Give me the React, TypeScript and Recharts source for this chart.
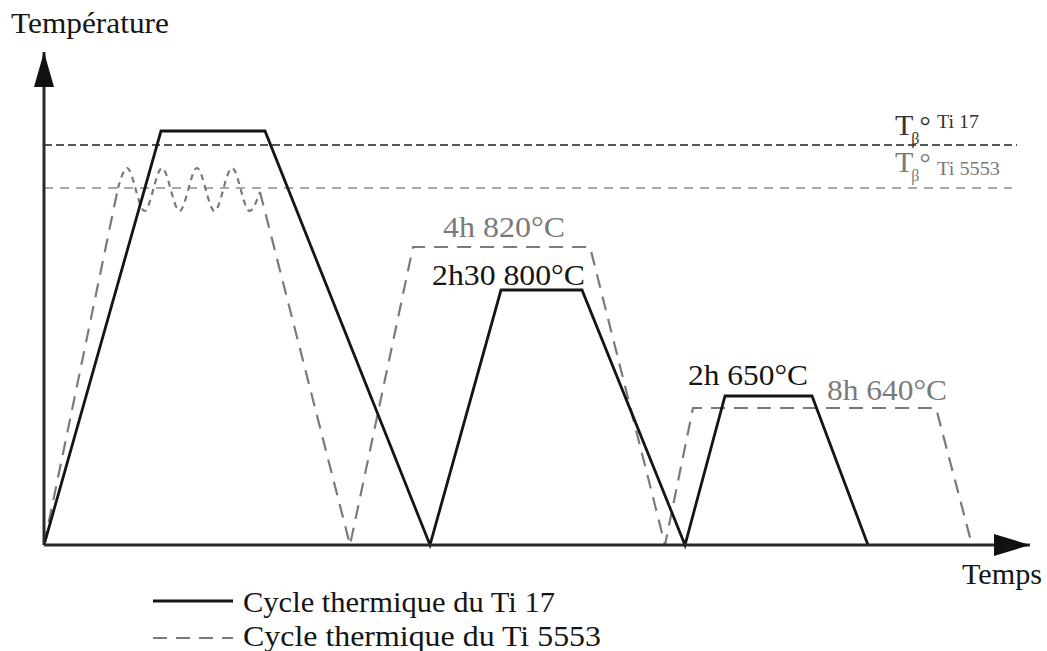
import React from 'react';
import { LineChart, Line, XAxis, YAxis, ReferenceLine, ReferenceDot } from 'recharts';

const W = 1047;
const H = 651;
const MARGIN = { top: 52, right: 17, bottom: 106, left: 44 };
const TIME_MAX = 986;
const TEMP_MAX = 493;

const FONT = '"Liberation Serif", "DejaVu Serif", serif';
const BLACK = '#151515';
const GREY = '#7a7a7a';

// Ti 17 : trait plein
const ti17Time = [0, 117, 221, 386, 457, 538, 641, 681, 768, 824];
const ti17Temp = [0, 414, 414, 0, 255, 255, 0, 149, 149, 0];

// Ti 5553 : tirets (la partie oscillante est une série à part)
const ti5553Time = [0, 74, 120, 216, 306, 369, 546, 621, 649, 892, 928];
const ti5553Temp = [0, 357, null, 353, 0, 298, 298, 0, 137, 137, 0];

const oscTime = [74, 83, 100.5, 118, 135.5, 153, 170.5, 188, 205.5, 216];
const oscTemp = [357, 377, 334, 377, 334, 377, 334, 377, 334, 353];

// transus beta
const tBetaTi17 = 400;
const tBetaTi5553 = 357;
const tBetaEnd = 973;

const plateauLabels = ['4h 820°C', '2h30 800°C', '2h 650°C', '8h 640°C'];
const legendLabels = ['Cycle thermique du Ti 17', 'Cycle thermique du Ti 5553'];

const zip = (t: number[], v: (number | null)[]) => t.map((x, i) => ({ t: x, T: v[i] }));

const ti17Data = zip(ti17Time, ti17Temp);
const ti5553Data = zip(ti5553Time, ti5553Temp);
const oscData = zip(oscTime, oscTemp);

const DASH = '14 9';

const textMark = (key: string, t: number, T: number, text: string, color: string, width: number) => (
  <ReferenceDot
    key={key}
    x={t}
    y={T}
    r={0}
    ifOverflow="visible"
    shape={(p: any) => (
      <text
        x={p.cx}
        y={p.cy}
        fill={color}
        fontSize={30}
        fontFamily={FONT}
        textLength={width}
        lengthAdjust="spacingAndGlyphs"
      >
        {text}
      </text>
    )}
  />
);

const betaMark = (key: string, t: number, T: number, alloy: string, color: string, alloyWidth: number, alloyDy: number) => (
  <ReferenceDot
    key={key}
    x={t}
    y={T}
    r={0}
    ifOverflow="visible"
    shape={(p: any) => (
      <g fill={color} fontFamily={FONT}>
        <text x={p.cx} y={p.cy} fontSize={30}>
          T<tspan dx={-2} dy={9} fontSize={16}>β</tspan>
          <tspan dx={0} dy={-9} fontSize={28}>°</tspan>
        </text>
        <text x={p.cx + 42} y={p.cy + alloyDy} fontSize={19} textLength={alloyWidth} lengthAdjust="spacingAndGlyphs">
          {alloy}
        </text>
      </g>
    )}
  />
);

const App = () => {
  return (
    <div style={{ position: 'absolute', left: 0, top: 0, width: W, height: H, background: '#fff' }}>
      <LineChart width={W} height={H} margin={MARGIN}>
        <XAxis dataKey="t" type="number" domain={[0, TIME_MAX]} hide />
        <YAxis type="number" domain={[0, TEMP_MAX]} hide />

        <ReferenceLine
          segment={[{ x: 0, y: tBetaTi17 }, { x: tBetaEnd, y: tBetaTi17 }]}
          stroke="#555"
          strokeWidth={2}
          strokeDasharray="8 4"
          ifOverflow="visible"
        />
        <ReferenceLine
          segment={[{ x: 0, y: tBetaTi5553 }, { x: tBetaEnd - 5, y: tBetaTi5553 }]}
          stroke="#8a8a8a"
          strokeWidth={1.5}
          strokeDasharray="9 7"
          ifOverflow="visible"
        />

        <Line
          data={ti5553Data}
          dataKey="T"
          type="linear"
          stroke={GREY}
          strokeWidth={2.2}
          strokeDasharray={DASH}
          dot={false}
          connectNulls={false}
          isAnimationActive={false}
        />
        <Line
          data={oscData}
          dataKey="T"
          type="monotone"
          stroke={GREY}
          strokeWidth={2.2}
          strokeDasharray="6 5"
          dot={false}
          isAnimationActive={false}
        />
        <Line
          data={ti17Data}
          dataKey="T"
          type="linear"
          stroke={BLACK}
          strokeWidth={2.8}
          dot={false}
          isAnimationActive={false}
        />

        {/* axes */}
        <ReferenceLine x={0} stroke="#2a2a2a" strokeWidth={3} ifOverflow="visible" />
        <ReferenceLine y={0} stroke="#2a2a2a" strokeWidth={3} ifOverflow="visible" />
        <ReferenceDot
          x={0}
          y={TEMP_MAX}
          r={0}
          ifOverflow="visible"
          shape={(p: any) => (
            <polygon points={`${p.cx},${p.cy} ${p.cx - 10},${p.cy + 35} ${p.cx + 10},${p.cy + 35}`} fill="#111" />
          )}
        />
        <ReferenceDot
          x={TIME_MAX}
          y={0}
          r={0}
          ifOverflow="visible"
          shape={(p: any) => (
            <polygon points={`${p.cx},${p.cy} ${p.cx - 36},${p.cy - 11} ${p.cx - 36},${p.cy + 11}`} fill="#111" />
          )}
        />

        {textMark('p1', 399, 308, plateauLabels[0], GREY, 122)}
        {textMark('p2', 388, 260, plateauLabels[1], BLACK, 153)}
        {textMark('p3', 644, 160, plateauLabels[2], BLACK, 120)}
        {textMark('p4', 783, 145, plateauLabels[3], GREY, 120)}

        {betaMark('b1', 851, 410, 'Ti 17', '#333', 42, -7)}
        {betaMark('b2', 851, 373, 'Ti 5553', '#7a7a7a', 63, 3)}
      </LineChart>

      <svg width={W} height={H} style={{ position: 'absolute', left: 0, top: 0, pointerEvents: 'none' }}>
        <g fontFamily={FONT} fontSize={30} fill={BLACK}>
          <text x={11} y={33} textLength={158} lengthAdjust="spacingAndGlyphs">Température</text>
          <text x={962} y={584} textLength={80} lengthAdjust="spacingAndGlyphs">Temps</text>
          <line x1={153} y1={601} x2={233} y2={601} stroke={BLACK} strokeWidth={3} />
          <text x={243} y={612} textLength={312} lengthAdjust="spacingAndGlyphs">{legendLabels[0]}</text>
          <line x1={153} y1={638} x2={233} y2={638} stroke={GREY} strokeWidth={2.2} strokeDasharray={DASH} />
          <text x={243} y={646} textLength={358} lengthAdjust="spacingAndGlyphs">{legendLabels[1]}</text>
        </g>
      </svg>
    </div>
  );
};

export default App;
